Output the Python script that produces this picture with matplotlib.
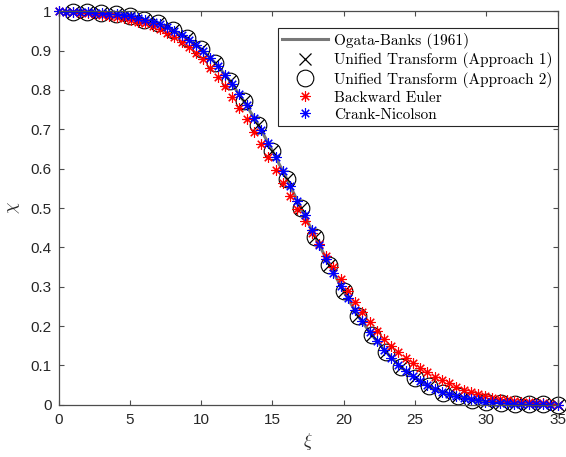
import numpy as np
import matplotlib
matplotlib.use('Agg')
import matplotlib.pyplot as plt

# exact solution sampled at integer xi
xi_exact = [0, 1, 2, 3, 4, 5, 6, 7, 8, 9, 10, 11, 12, 13, 14, 15, 16, 17,
            18, 19, 20, 21, 22, 23, 24, 25, 26, 27, 28, 29, 30, 31, 32, 33, 34, 35]
chi_exact = [1.000, 0.999, 0.997, 0.995, 0.992, 0.988, 0.979, 0.969, 0.953, 0.932,
             0.904, 0.868, 0.824, 0.771, 0.712, 0.645, 0.574, 0.500, 0.426, 0.355,
             0.288, 0.226, 0.176, 0.133, 0.096, 0.069, 0.047, 0.031, 0.021, 0.012,
             0.0075, 0.0046, 0.0027, 0.0014, 0.0008, 0.0004]

# unified transform points (both approaches)
xi_ut = xi_exact[1:]
chi_ut = chi_exact[1:]

# finite difference grid (70 nodes)
xi_fd = [0.00, 0.51, 1.01, 1.52, 2.03, 2.54, 3.04, 3.55, 4.06, 4.57,
         5.07, 5.58, 6.09, 6.59, 7.10, 7.61, 8.12, 8.62, 9.13, 9.64,
         10.14, 10.65, 11.16, 11.67, 12.17, 12.68, 13.19, 13.70, 14.20, 14.71,
         15.22, 15.72, 16.23, 16.74, 17.25, 17.75, 18.26, 18.77, 19.28, 19.78,
         20.29, 20.80, 21.30, 21.81, 22.32, 22.83, 23.33, 23.84, 24.35, 24.86,
         25.36, 25.87, 26.38, 26.88, 27.39, 27.90, 28.41, 28.91, 29.42, 29.93,
         30.43, 30.94, 31.45, 31.96, 32.46, 32.97, 33.48, 33.99, 34.49, 35.00]

chi_be = [1.000, 0.998, 0.997, 0.996, 0.995, 0.994, 0.991, 0.989, 0.986, 0.983,
          0.979, 0.974, 0.969, 0.962, 0.955, 0.945, 0.934, 0.922, 0.909, 0.894,
          0.878, 0.857, 0.834, 0.809, 0.783, 0.754, 0.725, 0.693, 0.662, 0.629,
          0.597, 0.564, 0.531, 0.498, 0.466, 0.436, 0.409, 0.379, 0.349, 0.319,
          0.289, 0.261, 0.235, 0.211, 0.188, 0.168, 0.150, 0.133, 0.118, 0.105,
          0.093, 0.082, 0.071, 0.062, 0.054, 0.046, 0.038, 0.032, 0.027, 0.022,
          0.018, 0.015, 0.012, 0.010, 0.008, 0.006, 0.005, 0.004, 0.002, 0.000]

chi_cn = [1.000, 0.999, 0.998, 0.998, 0.997, 0.996, 0.995, 0.994, 0.992, 0.990,
          0.987, 0.983, 0.979, 0.973, 0.967, 0.959, 0.950, 0.940, 0.928, 0.914,
          0.899, 0.881, 0.861, 0.839, 0.816, 0.789, 0.761, 0.730, 0.698, 0.665,
          0.630, 0.594, 0.557, 0.519, 0.481, 0.444, 0.407, 0.371, 0.336, 0.302,
          0.270, 0.240, 0.212, 0.186, 0.161, 0.139, 0.120, 0.102, 0.086, 0.072,
          0.060, 0.050, 0.041, 0.033, 0.027, 0.022, 0.017, 0.014, 0.011, 0.008,
          0.006, 0.005, 0.004, 0.003, 0.002, 0.0015, 0.001, 0.0008, 0.0005, 0.000]

plt.rcParams.update({
    'font.family': 'Liberation Sans',
    'font.size': 11,
    'mathtext.fontset': 'cm',
    'xtick.direction': 'in',
    'ytick.direction': 'in',
    'xtick.top': True,
    'ytick.right': True,
    'xtick.major.size': 3.5,
    'ytick.major.size': 3.5,
    'xtick.major.pad': 6,
    'ytick.major.pad': 5,
    'xtick.color': '0.3',
    'ytick.color': '0.3',
    'xtick.labelcolor': '0.15',
    'ytick.labelcolor': '0.15',
})

fig = plt.figure(figsize=(5.66, 4.57), dpi=100)
ax = fig.add_axes([0.1037, 0.1144, 0.8813, 0.8609])

star = (8, 2, 0)
ax.plot(xi_exact, chi_exact, '-', color='0.47', linewidth=2.2, label='Ogata-Banks (1961)')
ax.plot(xi_ut, chi_ut, 'x', color='k', markersize=8, markeredgewidth=0.9,
        linestyle='none', clip_on=False, label='Unified Transform (Approach 1)')
ax.plot(xi_ut, chi_ut, 'o', color='k', markerfacecolor='none', markersize=12,
        markeredgewidth=0.8, linestyle='none', clip_on=False,
        label='Unified Transform (Approach 2)')
ax.plot(xi_fd, chi_be, marker=star, color='red', markersize=7.5, markeredgewidth=0.8,
        linestyle='none', clip_on=False, label='Backward Euler')
ax.plot(xi_fd, chi_cn, marker=star, color='blue', markersize=7.5, markeredgewidth=0.8,
        linestyle='none', clip_on=False, label='Crank-Nicolson')

ax.set_xlim(0, 35)
ax.set_ylim(0, 1)
ax.set_xticks(np.arange(0, 36, 5))
ax.set_yticks(np.arange(0, 1.01, 0.1))
ax.set_yticklabels(['0', '0.1', '0.2', '0.3', '0.4', '0.5', '0.6', '0.7', '0.8', '0.9', '1'])
for sp in ax.spines.values():
    sp.set_color('0.3')
    sp.set_linewidth(0.9)

ax.set_xlabel(r'$\xi$', fontsize=13, color='0.15', labelpad=3)
ax.set_ylabel(r'$\chi$', fontsize=13, color='0.15', labelpad=6)

leg = ax.legend(loc='upper right', bbox_to_anchor=(1.0, 0.957), borderaxespad=0,
                prop={'family': 'cmr10', 'size': 11}, fancybox=False,
                edgecolor='0.15', framealpha=1, handlelength=3.0,
                handletextpad=0.4, labelspacing=0.22, borderpad=0.3)
leg.get_frame().set_linewidth(0.8)

fig.savefig('out.png', dpi=100)
